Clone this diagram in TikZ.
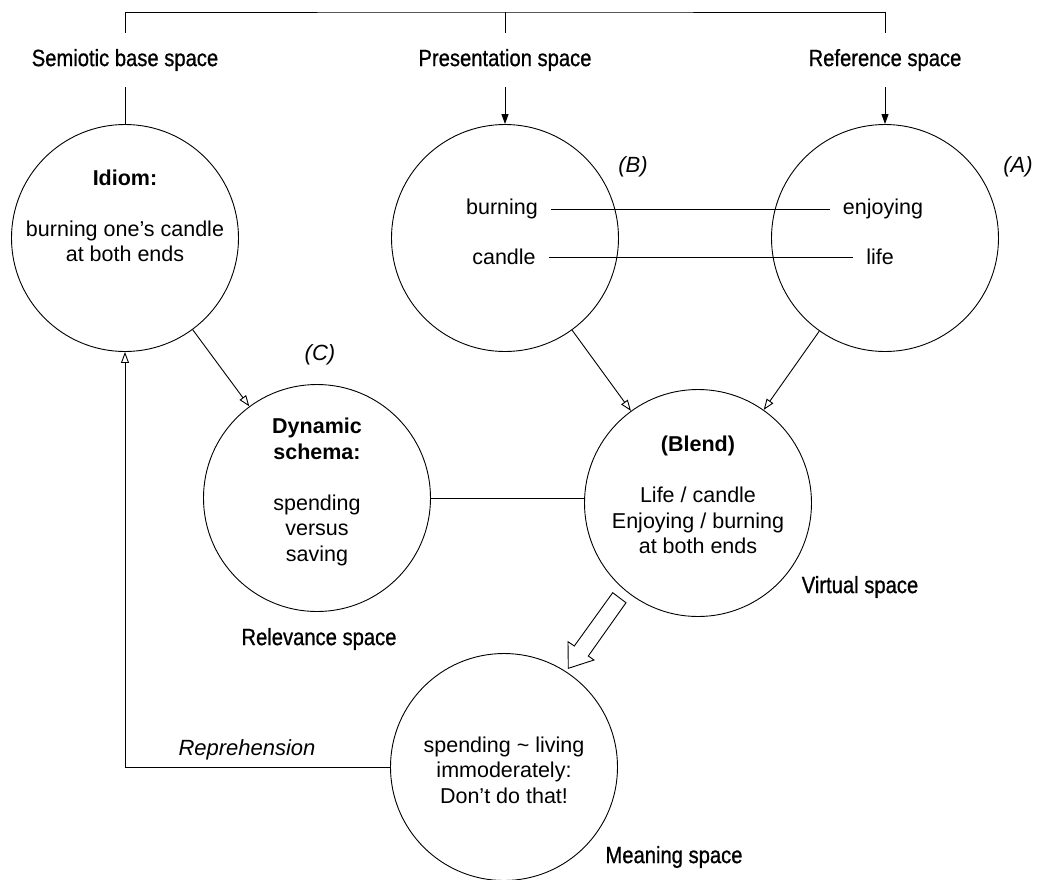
\documentclass[tikz,border=0pt]{standalone}
\usepackage{fontspec}
\setmainfont{Liberation Sans}
\newfontfamily\labelfont[FakeStretch=0.86,FakeBold=0.8]{Liberation Sans}
\usetikzlibrary{arrows.meta}

\begin{document}
\begin{tikzpicture}[x=1pt,y=-1pt,
spc/.style={%
circle,
draw,
line width=0.9pt,
minimum size=227pt,
inner sep=0pt
},
txt/.style={%
align=center,
inner sep=0pt,
font=\fontsize{21.5}{25.5}\selectfont
},
word/.style={%
inner sep=0pt,
inner xsep=13pt,
font=\fontsize{21.5}{25.5}\selectfont
},
lbl/.style={%
minimum height=54pt,
inner sep=0pt,
font=\labelfont\fontsize{23.5}{28}\selectfont
},
tag/.style={%
inner sep=0pt,
font=\itshape\fontsize{22}{26}\selectfont
},
link/.style={line width=0.9pt},
feed/.style={line width=0.9pt,-{Triangle[open,length=11pt,width=8pt]}},
down/.style={line width=0.9pt,-{Triangle[length=10pt,width=7pt]}},
]
\useasboundingbox (0,0) rectangle (1039,879);
%% Spaces
\node[spc](idiom)at(125,238){};
\node[spc](pres)at(505,238){};
\node[spc](ref)at(885,238){};
\node[spc](dyn)at(317,498){};
\node[spc](blend)at(698,503){};
\node[spc](meaning)at(504,767){};
%% Headings
\node[lbl](semlbl)at(125,60){Semiotic base space};
\node[lbl](prelbl)at(505,60){Presentation space};
\node[lbl](reflbl)at(885,60){Reference space};
\node[lbl]at(319,639){Relevance space};
\node[lbl]at(860,587){Virtual space};
\node[lbl]at(674,857){Meaning space};
\coordinate(top)at(505,12);
\draw[link](semlbl.north)|-(top)-|(reflbl.north);
\draw[link](prelbl.north)--(top);
\draw[link](semlbl.south)--(idiom.north);
\draw[down](prelbl.south)--(pres.north);
\draw[down](reflbl.south)--(ref.north);
%% Tags
\node[tag]at(633,167){(B)};
\node[tag]at(1018,167){(A)};
\node[tag]at(320,355){(C)};
\node[tag]at(247,750){Reprehension};
%% Contents
\node[txt]at(125,216){\textbf{Idiom:}\\[25.5pt]burning one’s candle\\at both ends};
\node[word](burning)at(502,209){burning};
\node[word](candle)at(504,257){candle};
\node[word](enjoying)at(883,209){enjoying};
\node[word](life)at(880,257){life};
\node[txt]at(317,492){\textbf{Dynamic}\\\textbf{schema:}\\[25.5pt]spending\\versus\\saving};
\node[txt]at(698,495){\textbf{(Blend)}\\[25.5pt]Life / candle\\Enjoying / burning\\at both ends};
\node[txt]at(504,770){spending \textasciitilde{} living\\immoderately:\\Don’t do that!};
%% Mappings
\draw[link](burning)--(enjoying);
\draw[link](candle)--(life);
\draw[feed](idiom)--(dyn);
\draw[feed](pres)--(blend);
\draw[feed](ref)--(blend);
\draw[link](dyn.east)--(dyn.east-|blend.west);
\draw[feed](meaning.west)-|(idiom.south);
%% Hollow arrow
\draw[link,fill=white](612.7,592.7)--(574.3,646)--(568,641.7)--(568.3,668.3)
  --(594,660)--(588.3,656)--(626,602.7)--cycle;
\end{tikzpicture}
\end{document}
